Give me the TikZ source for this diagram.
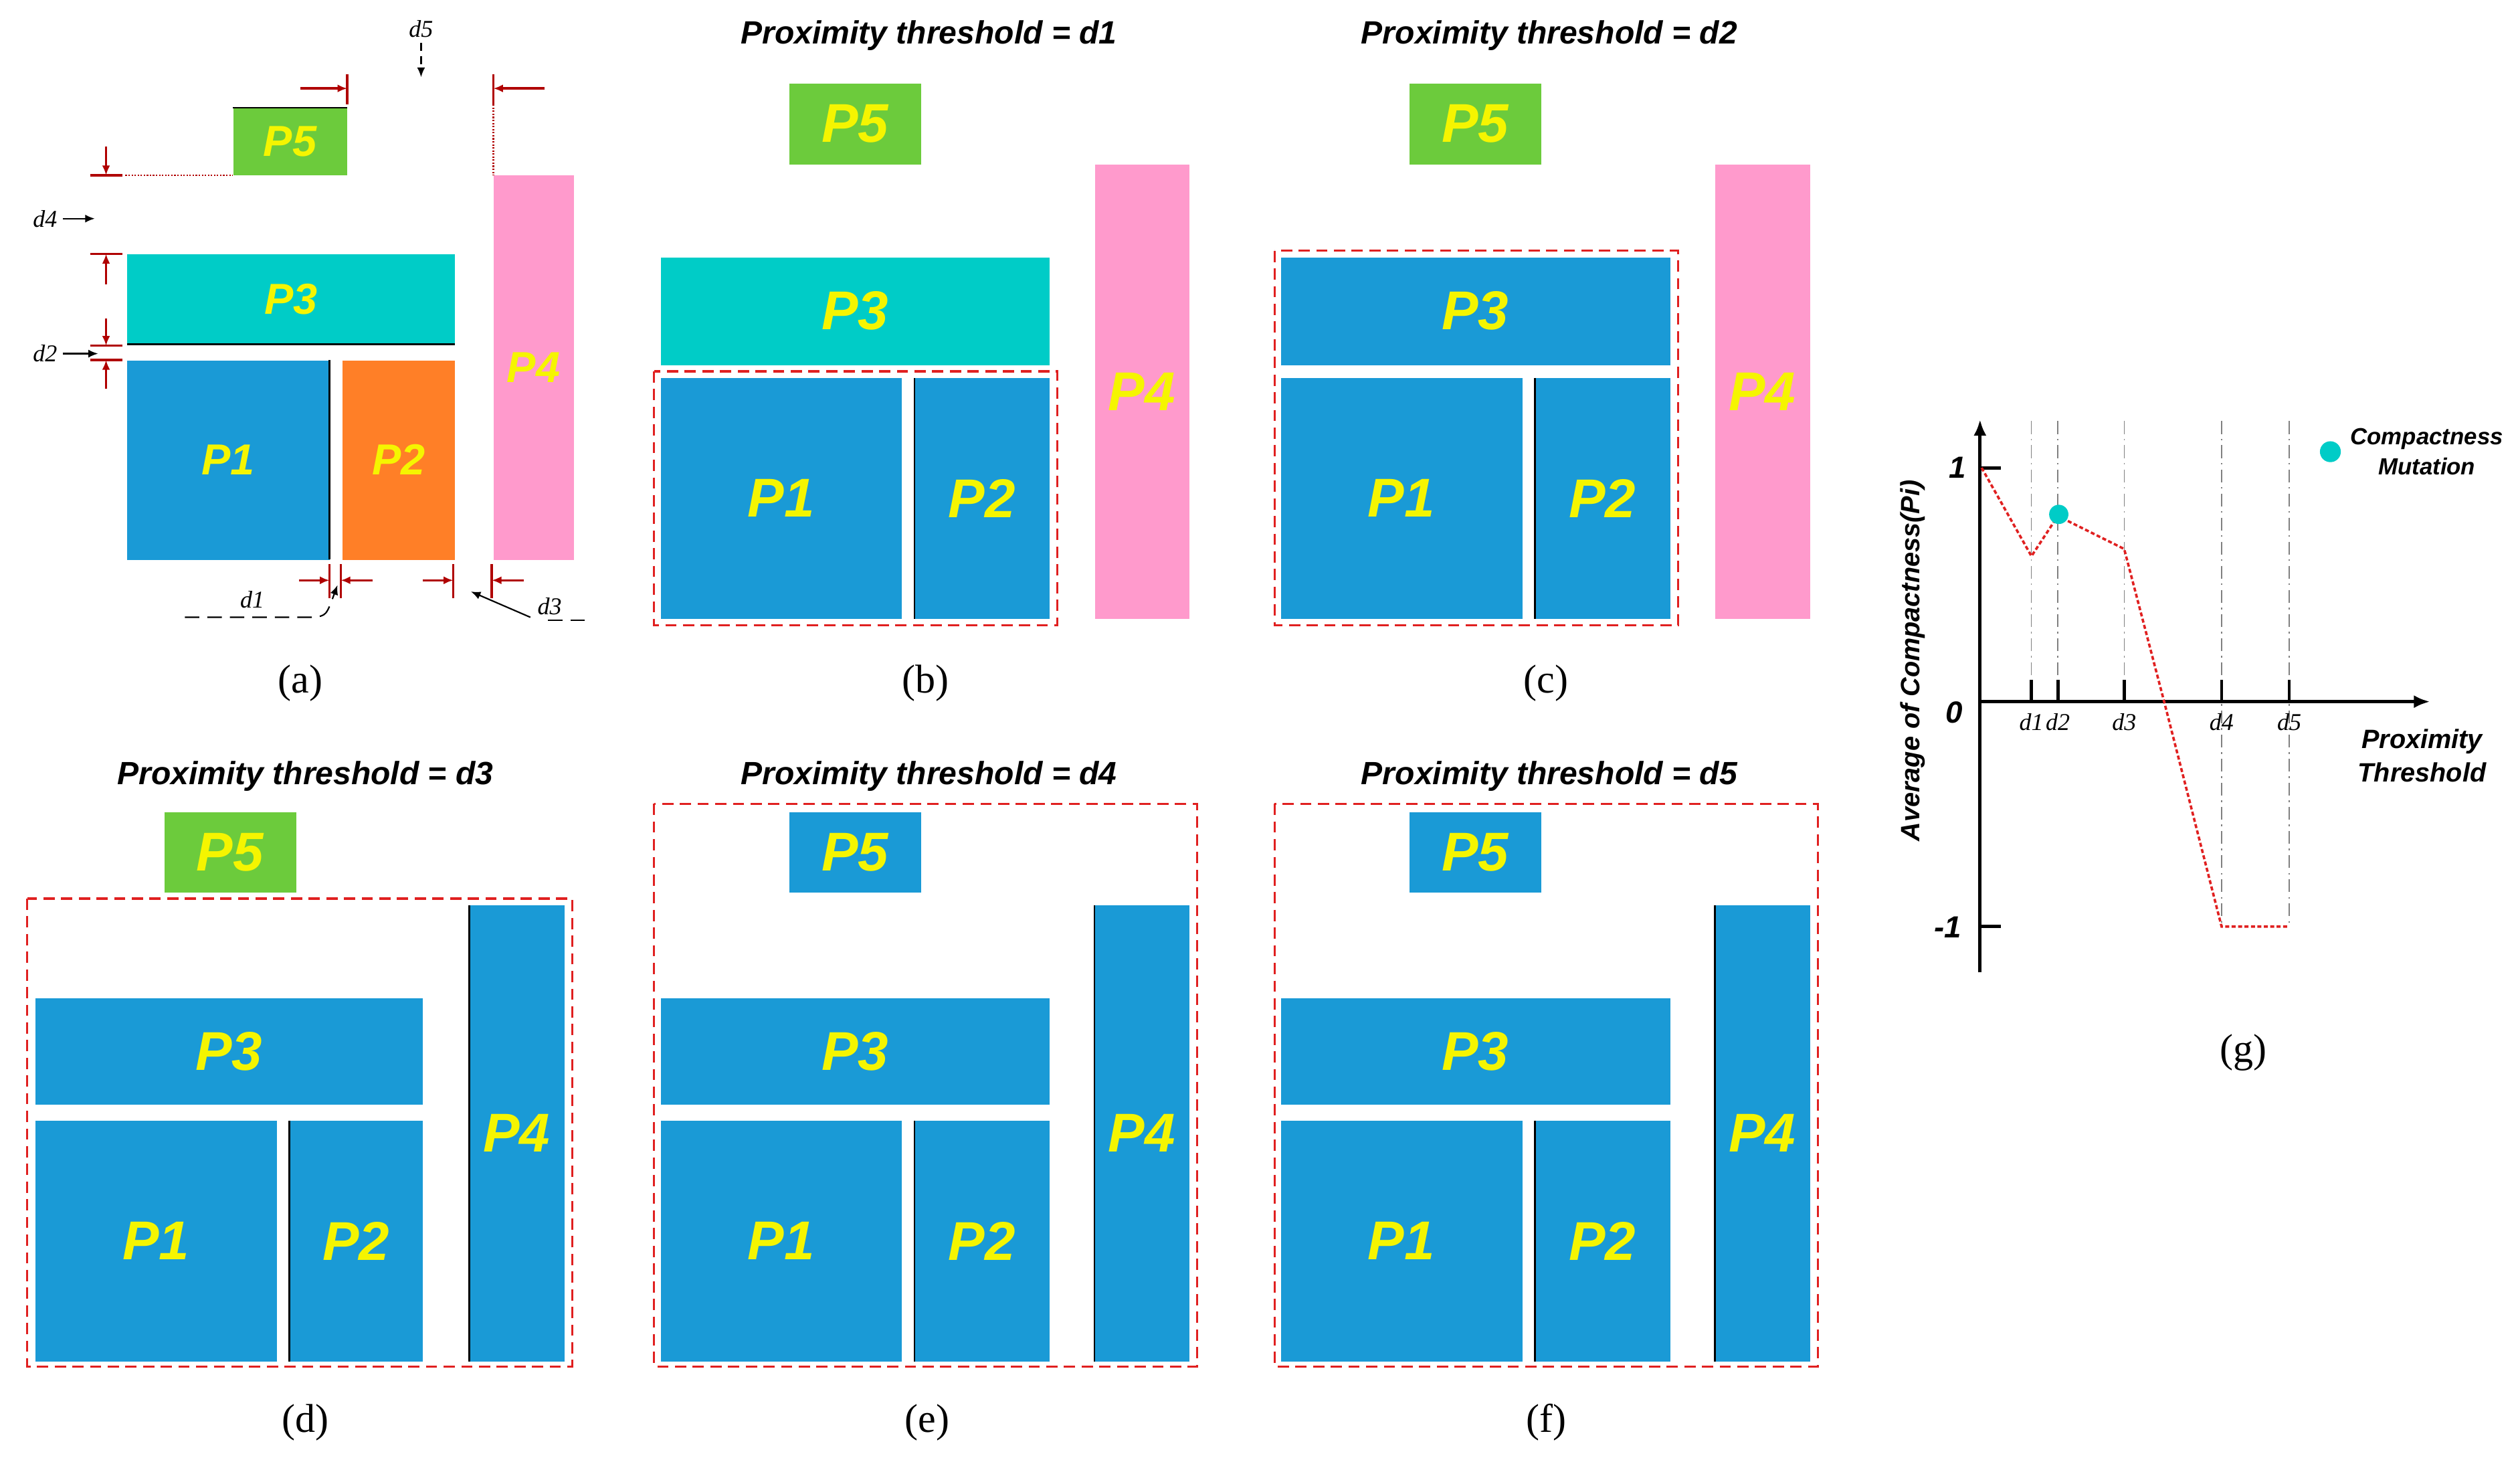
\documentclass[tikz,border=0pt]{standalone}
\usepackage{fontspec}
\setmainfont{Liberation Serif}
\newfontfamily\sans{Liberation Sans}
\usetikzlibrary{arrows.meta}
\definecolor{pblue}{HTML}{1A9AD6}
\definecolor{pcyan}{HTML}{00CCC7}
\definecolor{pgreen}{HTML}{6CCB3C}
\definecolor{porange}{HTML}{FF7F27}
\definecolor{ppink}{HTML}{FF9ACC}
\definecolor{pyel}{HTML}{F5F500}
\definecolor{dred}{HTML}{B00000}
\definecolor{bred}{HTML}{E02020}
\tikzset{
 box/.style={draw=none,inner sep=0pt,anchor=north west,text=pyel,font=\sans\bfseries\itshape\fontsize{34}{34}\selectfont},
 sbox/.style={box,font=\sans\bfseries\itshape\fontsize{27}{27}\selectfont},
 title/.style={font=\sans\bfseries\itshape\fontsize{20}{20}\selectfont},
 capt/.style={font=\fontsize{25}{25}\selectfont},
 dl/.style={font=\itshape\fontsize{15}{15}\selectfont},
 gf/.style={font=\sans\bfseries\itshape\fontsize{19}{19}\selectfont},
 grp/.style={draw=bred,dashed,line width=1.3pt,dash pattern=on 7pt off 4pt},
 ann/.style={draw=dred,line width=1.4pt},
 annA/.style={ann,-{Latex[length=6pt,width=5pt]}},
 blk/.style={-{Latex[length=6pt,width=5pt]},line width=0.9pt},
 gl/.style={gray,line width=0.6pt,dash pattern=on 8pt off 3pt on 1pt off 3pt},
}
\newcommand\pb[8][box]{\node[#1,fill=#7,minimum width={(#4-#2)*1pt},minimum height={(#5-#3)*1pt}] (#2#3) at (#2,#3) {};
 \node[#1,anchor=center] (#8) at ({(#2+#4)/2},{(#3+#5)/2}) {#6};}
\begin{document}
\begin{tikzpicture}[x=1pt,y=-1pt]
\useasboundingbox[fill=white] (0,0) rectangle (1568,913);
% ---------- (a)
\pb[sbox]{145}{67}{216}{109}{P5}{pgreen}{a5}
\draw[line width=1pt] (145,67) -- (216,67);
\pb[sbox]{79}{158}{283}{214}{P3}{pcyan}{a3}
\draw[line width=1.2pt] (79,214) -- (283,214);
\pb[sbox]{79}{224}{205}{348}{P1}{pblue}{a1}
\draw[line width=1.2pt] (205,224) -- (205,348);
\pb[sbox]{213}{224}{283}{348}{P2}{porange}{a2}
\pb[sbox]{307}{109}{357}{348}{P4}{ppink}{a4}
% annotations
\draw[ann] (216,46) -- (216,65);
\draw[annA] (187,55) -- (216,55);
\draw[ann] (307,46) -- (307,65);
\draw[annA] (339,55) -- (307,55);
\draw[dred,line width=0.9pt,densely dotted] (307,65) -- (307,109);
\draw[ann] (56,109) -- (76,109);
\draw[annA] (66,91) -- (66,109);
\draw[dred,line width=0.9pt,densely dotted] (78,109) -- (145,109);
\node[dl] (td5) at (262,18) {d5};
\coordinate (d5e) at (262,48);
\draw[blk,dash pattern=on 5pt off 3pt] (td5.south) -- (d5e);
\node[dl] (td4) at (28,136) {d4};
\coordinate (d4e) at (59,136);
\draw[blk] (td4.east) -- (d4e);
\draw[ann] (56,158) -- (76,158);
\draw[annA] (66,177) -- (66,158);
\draw[ann] (56,215) -- (76,215);
\draw[annA] (66,198) -- (66,215);
\draw[ann] (56,224) -- (76,224);
\draw[annA] (66,242) -- (66,224);
\node[dl] (td2) at (28,220) {d2};
\coordinate (d2e) at (61,220);
\draw[blk] (td2.east) -- (d2e);
\draw[ann] (205,351) -- (205,372);
\draw[annA] (186,361) -- (205,361);
\draw[ann] (212,351) -- (212,372);
\draw[annA] (232,361) -- (212,361);
\draw[ann] (282,351) -- (282,372);
\draw[annA] (263,361) -- (282,361);
\draw[ann] (306,351) -- (306,372);
\draw[annA] (326,361) -- (306,361);
\node[dl] (td1) at (157,373) {d1};
\coordinate (d1e) at (210,364);
\draw[blk,dash pattern=on 9pt off 5pt] (115,384) -- (195,384) .. controls (203,383) .. (d1e);
\node[dl] (td3) at (342,377) {d3};
\coordinate (d3e) at (293,368);
\draw[dash pattern=on 9pt off 5pt,line width=0.9pt] (364,386) -- (338,386);
\draw[blk] (330,384) -- (d3e);
\node[capt] (ca) at (187,425) {(a)};
% ---------- (b)
\node[title] (tb) at (578,22) {Proximity threshold = d1};
\pb{491}{52}{573}{102}{P5}{pgreen}{b5}
\pb{411}{160}{653}{227}{P3}{pcyan}{b3}
\pb{411}{235}{561}{385}{P1}{pblue}{b1}
\pb{569}{235}{653}{385}{P2}{pblue}{b2}
\draw[line width=1pt] (569,235) -- (569,385);
\pb{681}{102}{740}{385}{P4}{ppink}{b4}
\draw[grp] (407,231) rectangle (658,389);
\node[capt] (cb) at (576,425) {(b)};
% ---------- (c)
\node[title] (tc) at (964,22) {Proximity threshold = d2};
\pb{877}{52}{959}{102}{P5}{pgreen}{c5}
\pb{797}{160}{1039}{227}{P3}{pblue}{c3}
\pb{797}{235}{947}{385}{P1}{pblue}{c1}
\pb{955}{235}{1039}{385}{P2}{pblue}{c2}
\draw[line width=1pt] (955,235) -- (955,385);
\pb{1067}{102}{1126}{385}{P4}{ppink}{c4}
\draw[grp] (793,156) rectangle (1044,389);
\node[capt] (cc) at (962,425) {(c)};
% ---------- (d)
\node[title] (td) at (190,483) {Proximity threshold = d3};
\pb{102}{505}{184}{555}{P5}{pgreen}{d5}
\pb{22}{621}{263}{687}{P3}{pblue}{d3}
\pb{22}{697}{172}{847}{P1}{pblue}{d1}
\pb{180}{697}{263}{847}{P2}{pblue}{d2}
\draw[line width=1pt] (180,697) -- (180,847);
\pb{292}{563}{351}{847}{P4}{pblue}{d4}
\draw[line width=1pt] (292,563) -- (292,847);
\draw[grp] (17,559) rectangle (356,850);
\node[capt] (cd) at (190,885) {(d)};
% ---------- (e)
\node[title] (te) at (578,483) {Proximity threshold = d4};
\pb{491}{505}{573}{555}{P5}{pblue}{e5}
\pb{411}{621}{653}{687}{P3}{pblue}{e3}
\pb{411}{697}{561}{847}{P1}{pblue}{e1}
\pb{569}{697}{653}{847}{P2}{pblue}{e2}
\draw[line width=1pt] (569,697) -- (569,847);
\pb{681}{563}{740}{847}{P4}{pblue}{e4}
\draw[line width=1pt] (681,563) -- (681,847);
\draw[grp] (407,500) rectangle (745,850);
\node[capt] (ce) at (577,885) {(e)};
% ---------- (f)
\node[title] (tf) at (964,483) {Proximity threshold = d5};
\pb{877}{505}{959}{555}{P5}{pblue}{f5}
\pb{797}{621}{1039}{687}{P3}{pblue}{f3}
\pb{797}{697}{947}{847}{P1}{pblue}{f1}
\pb{955}{697}{1039}{847}{P2}{pblue}{f2}
\draw[line width=1pt] (955,697) -- (955,847);
\pb{1067}{563}{1126}{847}{P4}{pblue}{f4}
\draw[line width=1pt] (1067,563) -- (1067,847);
\draw[grp] (793,500) rectangle (1131,850);
\node[capt] (cf) at (962,885) {(f)};
% ---------- (g)
\foreach \x/\b in {1264/436,1280.4/436,1321.7/436,1382.3/576,1424.4/576}
  \draw[gl] (\x,262) -- (\x,\b);
\draw[line width=2pt,-{Latex[length=10pt,width=8pt]}] (1232,605) -- (1232,261);
\draw[line width=2pt,-{Latex[length=10pt,width=8pt]}] (1232,436.5) -- (1512,436.5);
\draw[line width=2pt] (1232,291) -- (1245,291) (1232,576.4) -- (1245,576.4);
\foreach \x/\l in {1264/d1,1280.4/d2,1321.7/d3,1382.3/d4,1424.4/d5}{
  \draw[line width=2pt] (\x,436) -- (\x,423);
  \node[dl] at (\x,449) {\l};}
\node[gf] (g1) at (1218,291) {1};
\node[gf] (g0) at (1216,443) {0};
\node[gf] (gm) at (1212,577) {-1};
\draw[bred,line width=1.5pt,dash pattern=on 2.5pt off 1.5pt] (1233,291) -- (1264,346) -- (1280.4,321) -- (1321.7,341.5) -- (1346.7,437) -- (1382.3,576.4) -- (1424.4,576.4);
\fill[pcyan] (1281,320) circle (6);
\fill[pcyan] (1450,281) circle (6.5);
\node[font=\sans\bfseries\itshape\fontsize{14.5}{19}\selectfont,align=center] (leg) at (1510,281) {Compactness\\Mutation};
\node[font=\sans\bfseries\itshape\fontsize{16.5}{21}\selectfont,align=center] (px) at (1507,470) {Proximity\\Threshold};
\node[font=\sans\bfseries\itshape\fontsize{16.5}{16.5}\selectfont,rotate=90] (ya) at (1190,411) {Average of Compactness(Pi)};
\node[capt] (cg) at (1396,655) {(g)};
\end{tikzpicture}
\end{document}
